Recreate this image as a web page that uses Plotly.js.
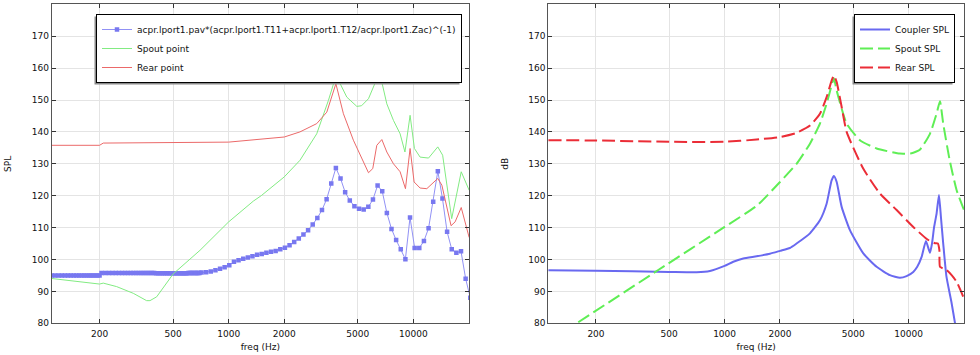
<!DOCTYPE html>
<html><head><meta charset="utf-8">
<script src="https://cdn.plot.ly/plotly-3.0.1.min.js"></script>
<style>html,body{margin:0;padding:0;background:#fff;} #chart{width:980px;height:355px;}</style>
</head><body><div id="chart"></div>
<script>
// ---- Left plot data ----
const couplerLeftFreq = [110,115,120,125,130,135,140,145,150,155,160,165,170,175,180,185,190,195,200,
  205,215,225,235,245,255,265,275,285,295,305,315,325,335,345,355,365,375,385,395,
  405,415,425,435,445,455,465,475,485,495,505,515,525,535,545,555,565,575,585,595,
  605,615,625,635,645,655,665,675,685,695,
  713,755,800,848,898,951,
  1008,1068,1131,1199,1270,1345,1425,1510,1600,1695,1796,1903,2016,2136,2263,2397,2540,2691,2851,3020,
  3200,3390,3592,3805,4032,4271,4526,4795,5080,5382,5702,6041,6400,6781,7184,7611,8064,8543,9051,9589,
  10159,10763,11404,12082,12800,13561,14368,15222,16127,17086,18102,19178,20319];
const couplerLeftSPL = [95.0,95.0,95.0,95.0,95.0,95.0,95.0,95.0,95.0,95.0,95.0,95.0,95.0,95.0,95.0,95.0,95.0,95.0,95.0,
  95.8,95.8,95.8,95.8,95.8,95.8,95.8,95.8,95.8,95.8,95.8,95.8,95.8,95.8,95.8,95.8,95.8,95.8,95.8,95.8,
  95.7,95.7,95.7,95.7,95.7,95.7,95.7,95.7,95.7,95.7,95.7,95.7,95.7,95.7,95.7,95.7,95.7,95.7,95.7,95.7,
  95.8,95.8,95.8,95.8,95.8,95.8,95.8,95.8,95.8,95.8,
  95.9,96.0,96.2,96.6,97.1,97.6,
  98.2,99.3,99.8,100.2,100.6,101.0,101.5,101.7,102.1,102.4,102.7,103.2,103.7,104.5,105.5,106.6,107.8,109.2,111.0,113.0,
  115.5,118.9,123.8,128.7,125.4,121.1,118.5,116.7,115.9,115.7,116.5,118.8,123.2,121.4,114.6,109.6,106.1,103.2,100.1,113.2,
  103.6,103.6,105.8,109.8,118.1,127.7,119.1,108.7,103.2,102.1,102.6,94.0,88.0];

const spoutLeftFreq = [108,200,209.5,247.6,304.5,359.6,375,407.6,501,700,1000,1360,1500,2000,2432,2997,3468,3805,4000,4360,
  4940,5241,5712,6380,6748,7180,7800,8475,9000,9596,10130,10870,12080,13550,14400,15170,16120,18150,20040];
const spoutLeftSPL = [94.1,92.3,92.6,91.5,89.4,87.1,87.1,88.3,95.5,102.9,111.8,118.3,120.0,125.9,131.1,139.4,149.9,157.5,155.3,150.9,
  148.0,148.2,150.4,157.0,155.6,148.8,143.6,139.4,133.7,145.2,134.8,132.1,131.8,135.3,132.7,122.8,112.8,127.5,121.7];

const rearLeftFreq = [108,200,209.5,500,1000,2000,2432,2997,3398,3805,4180,4733,5712,6027,6336,6748,7180,7800,8475,9058,
  9596,10090,10870,11820,13550,14260,15170,15990,16820,18150,20040];
const rearLeftSPL = [135.8,135.8,136.5,136.7,136.8,138.4,140.0,142.6,146.2,155.1,145.7,137.4,127.2,128.5,135.8,137.6,133.7,130.0,127.5,122.2,
  134.8,124.3,122.4,122.2,125.4,123.3,116.5,110.6,111.8,116.3,106.9];

// ---- Right plot data ----
const couplerFreq = [110,200,500,705,832,1000,1115,1263,1493,1763,2000,2265,2461,2910,3297,3584,3815,3927,4066,4327,
  4800,5671,6702,7917,8970,9750,10600,11140,11770,12420,13060,13400,13760,14190,14620,15000,15420,16060,17130,17880,19000];
const couplerSPL = [96.6,96.5,96.1,96.0,96.4,98.0,99.3,100.3,101.0,101.8,102.7,103.6,105.0,108.2,112.3,117.5,124.8,126.2,124.3,116.5,
  109.2,101.9,97.7,95.1,94.3,94.8,96.1,97.7,100.8,105.8,102.1,105.0,110.2,114.4,120.2,113.0,105.0,94.6,86.3,80.0,72.0];

const spoutFreq = [110,157,436,1000,1500,2000,2461,2910,3297,3584,3815,3927,4064,4605,5435,6700,8970,10380,11510,13060,
  14190,14800,15420,16720,18240,20200];
const spoutSPL = [74.2,80.0,96.7,110.2,116.9,124.3,130.0,136.3,142.6,148.8,154.6,156.8,153.0,142.6,137.4,134.8,133.2,133.3,134.4,139.4,
  145.7,149.6,142.6,131.1,121.7,114.9];

const rearFreq = [110,200,500,1000,1493,2000,2461,2910,3297,3584,3815,3927,4066,4327,4605,5665,6980,8610,10600,12500,
  13060,13900,14420,14690,14800,15350,16060,17130,18240,19820,20200];
const rearSPL = [137.4,137.3,136.9,136.9,137.6,138.4,139.7,142.0,145.7,150.9,156.1,157.7,155.6,147.8,140.0,128.5,120.7,115.5,110.2,106.5,
  105.8,105.1,105.0,103.0,97.7,97.2,96.7,95.1,93.0,88.3,87.0];

// ---- Axis ticks ----
const freqTicks = [200,500,1000,2000,5000,10000];
const freqTickText = ['200','500','1000','2000','5000','10000'];
const splTicks = [80,90,100,110,120,130,140,150,160,170];

const FONT = 'DejaVu Sans, Verdana, sans-serif';
const W = 980, H = 355;

const traces = [
  {x: couplerLeftFreq, y: couplerLeftSPL, xaxis:'x', yaxis:'y', mode:'lines+markers', legend:'legend',
   name:'acpr.lport1.pav*(acpr.lport1.T11+acpr.lport1.T12/acpr.lport1.Zac)^(-1)',
   line:{color:'rgb(145,145,245)', width:1}, marker:{symbol:'square', size:4.5, color:'rgb(120,120,240)'}},
  {x: spoutLeftFreq, y: spoutLeftSPL, xaxis:'x', yaxis:'y', mode:'lines', legend:'legend', name:'Spout point',
   line:{color:'rgb(130,235,130)', width:1}},
  {x: rearLeftFreq, y: rearLeftSPL, xaxis:'x', yaxis:'y', mode:'lines', legend:'legend', name:'Rear point',
   line:{color:'rgb(235,105,105)', width:1}},
  {x: couplerFreq, y: couplerSPL, xaxis:'x2', yaxis:'y2', mode:'lines', legend:'legend2', name:'Coupler SPL',
   line:{color:'rgb(105,105,240)', width:2, shape:'spline', smoothing:0.5}},
  {x: spoutFreq, y: spoutSPL, xaxis:'x2', yaxis:'y2', mode:'lines', legend:'legend2', name:'Spout SPL',
   line:{color:'rgb(95,238,85)', width:2, dash:'13px,5px', shape:'spline', smoothing:0.5}},
  {x: rearFreq, y: rearSPL, xaxis:'x2', yaxis:'y2', mode:'lines', legend:'legend2', name:'Rear SPL',
   line:{color:'rgb(235,45,55)', width:2, dash:'13px,5px', shape:'spline', smoothing:0.5}}
];

function xAx(domain, anchor){
  return {type:'log', range:[2.042,4.301], domain:domain, anchor:anchor,
    tickmode:'array', tickvals:freqTicks, ticktext:freqTickText,
    ticks:'inside', ticklen:4, tickcolor:'#333', tickwidth:1, ticklabelstandoff:2,
    showline:true, linecolor:'#555', linewidth:1, mirror:'ticks',
    showgrid:true, gridcolor:'#e4e4e4', gridwidth:1, zeroline:false,
    tickfont:{size:9, color:'#111'}, automargin:false, fixedrange:true,
    title:{text:'freq (Hz)', font:{size:9, color:'#111'}, standoff:5}};
}
function yAx(domain, anchor, title){
  return {range:[80,180], domain:domain, anchor:anchor,
    tickmode:'array', tickvals:splTicks,
    ticks:'inside', ticklen:4, tickcolor:'#333', tickwidth:1,
    showline:true, linecolor:'#555', linewidth:1, mirror:'ticks',
    showgrid:true, gridcolor:'#e4e4e4', gridwidth:1, zeroline:false,
    tickfont:{size:9, color:'#111'}, automargin:false, fixedrange:true,
    title:{text:title, font:{size:9, color:'#111'}, standoff:18}};
}
const yDom = [1-323.3/H, 1-4.3/H];
const legBase = {bgcolor:'#ffffff', bordercolor:'#000', borderwidth:1, font:{size:9, color:'#111', family:FONT},
  yanchor:'top', y:1-14/H, traceorder:'normal'};

const layout = {
  width:W, height:H, margin:{l:0, r:0, t:0, b:0}, paper_bgcolor:'#fff', plot_bgcolor:'#fff',
  font:{family:FONT, size:9, color:'#111'}, showlegend:true, hovermode:false,
  xaxis: xAx([51.7/W, 469/W], 'y'),
  yaxis: yAx(yDom, 'x', 'SPL'),
  xaxis2: xAx([548.3/W, 964/W], 'y2'),
  yaxis2: yAx(yDom, 'x2', 'dB'),
  legend: Object.assign({}, legBase, {x:96/W, xanchor:'left'}),
  legend2: Object.assign({}, legBase, {x:955/W, xanchor:'right'})
};

Plotly.newPlot('chart', traces, layout, {staticPlot:true, displayModeBar:false}).then(function(gd){
  const root = gd.querySelector('.main-svg').getBoundingClientRect();
  const shapes = [];
  gd.querySelectorAll('.infolayer g.legend, .infolayer g.legend2').forEach(function(g){
    const bg = g.querySelector('rect.bg');
    if(!bg) return;
    const r = bg.getBoundingClientRect();
    const x0 = r.left - root.left - 2, x1 = r.right - root.left - 2;
    const y0 = r.top - root.top + 2, y1 = r.bottom - root.top + 2;
    shapes.push({type:'rect', xref:'paper', yref:'paper', layer:'above',
      x0:x0/W, x1:x1/W, y0:1-y1/H, y1:1-y0/H, fillcolor:'#8a8a8a', line:{width:0}});
  });
  return Plotly.relayout(gd, {shapes:shapes});
});
</script></body></html>
